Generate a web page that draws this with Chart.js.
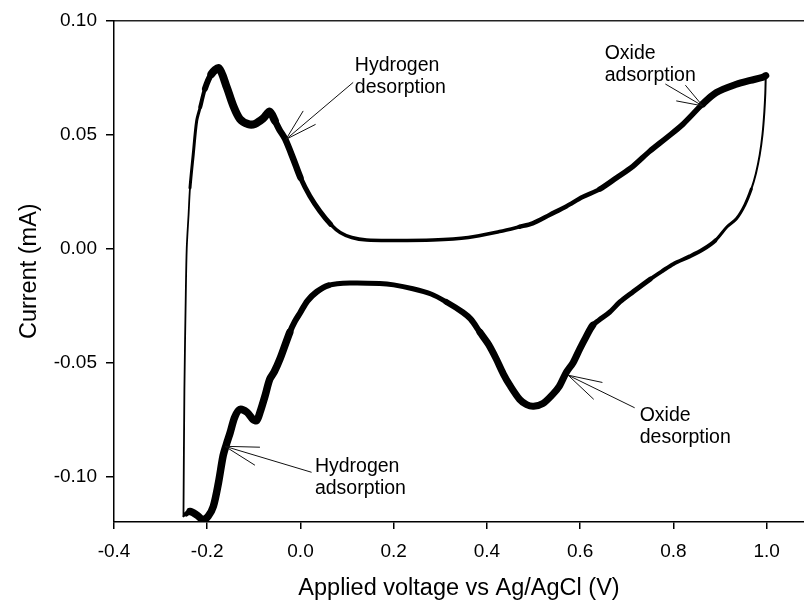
<!DOCTYPE html>
<html>
<head>
<meta charset="utf-8">
<script src="https://cdn.jsdelivr.net/npm/chart.js@4.4.1/dist/chart.umd.min.js"></script>
<style>
  html, body { margin: 0; padding: 0; background: #fff; }
  #cv { display: block; }
</style>
</head>
<body>
<canvas id="cv" width="804" height="604"></canvas>
<script>
// cyclic voltammogram, anodic sweep (-0.25 V -> 1.0 V)
const voltageAnodic = [-0.251, -0.249, -0.246, -0.244, -0.240, -0.237, -0.230, -0.2227, -0.215, -0.205, -0.191, -0.175, -0.158, -0.145, -0.130, -0.112, -0.098, -0.080, -0.066, -0.055, -0.045, -0.033, -0.015, 0.000, 0.020, 0.042, 0.065, 0.085, 0.110, 0.142, 0.200, 0.284, 0.360, 0.427, 0.470, 0.498, 0.535, 0.570, 0.605, 0.642, 0.678, 0.713, 0.749, 0.785, 0.820, 0.863, 0.892, 0.935, 0.965, 0.991, 0.998];
const currentAnodic = [-0.1175, -0.062, -0.020, 0.000, 0.015, 0.0265, 0.0413, 0.0559, 0.062, 0.070, 0.0765, 0.079, 0.0706, 0.063, 0.0568, 0.0545, 0.0546, 0.057, 0.060, 0.056, 0.052, 0.048, 0.039, 0.031, 0.023, 0.0162, 0.0105, 0.0070, 0.0048, 0.0037, 0.0035, 0.0037, 0.0048, 0.0074, 0.0095, 0.011, 0.0148, 0.0184, 0.0225, 0.026, 0.031, 0.036, 0.0426, 0.0485, 0.0544, 0.0634, 0.0684, 0.072, 0.0737, 0.075, 0.0758];

// cathodic sweep (1.0 V -> -0.25 V)
const voltageCathodic = [0.998, 0.997, 0.995, 0.991, 0.985, 0.977, 0.967, 0.953, 0.935, 0.915, 0.890, 0.863, 0.835, 0.800, 0.777, 0.750, 0.713, 0.685, 0.663, 0.640, 0.627, 0.612, 0.599, 0.585, 0.570, 0.555, 0.541, 0.520, 0.500, 0.485, 0.470, 0.449, 0.435, 0.420, 0.403, 0.385, 0.365, 0.348, 0.313, 0.280, 0.241, 0.200, 0.170, 0.106, 0.060, 0.035, 0.015, 0.000, -0.012, -0.023, -0.044, -0.056, -0.066, -0.076, -0.087, -0.094, -0.102, -0.115, -0.130, -0.141, -0.151, -0.159, -0.166, -0.176, -0.187, -0.198, -0.209, -0.222, -0.237, -0.245, -0.251];
const currentCathodic = [0.0758, 0.068, 0.060, 0.050, 0.041, 0.033, 0.026, 0.019, 0.013, 0.0095, 0.0035, -0.0005, -0.0035, -0.0068, -0.0098, -0.0135, -0.0191, -0.0235, -0.028, -0.0315, -0.0337, -0.039, -0.0441, -0.050, -0.0544, -0.0605, -0.064, -0.068, -0.0692, -0.0685, -0.0662, -0.060, -0.055, -0.0485, -0.042, -0.0368, -0.031, -0.028, -0.0235, -0.020, -0.0177, -0.016, -0.0154, -0.0152, -0.0162, -0.019, -0.023, -0.028, -0.032, -0.0368, -0.0485, -0.054, -0.0574, -0.0647, -0.072, -0.0755, -0.075, -0.0718, -0.0706, -0.074, -0.0809, -0.086, -0.091, -0.1029, -0.1132, -0.1175, -0.119, -0.117, -0.1154, -0.1165, -0.1175];

const xTickValues = [-0.4, -0.2, 0.0, 0.2, 0.4, 0.6, 0.8, 1.0];
const yTickValues = [-0.10, -0.05, 0.00, 0.05, 0.10];

// labels with arrows, in data units
const notes = [
  { text: ["Hydrogen", "desorption"], at: [0.1166, 0.0779], tip: [-0.0313, 0.0478], tail: [0.113, 0.0728], barbs: [[0.0058, 0.0603], [0.0324, 0.0544]] },
  { text: ["Oxide", "adsorption"], at: [0.6525, 0.0832], tip: [0.8626, 0.0625], tail: [0.7826, 0.0721], barbs: [[0.8255, 0.0716], [0.806, 0.0647]] },
  { text: ["Hydrogen", "adsorption"], at: [0.0309, -0.0981], tip: [-0.162, -0.0868], tail: [0.0238, -0.0982], barbs: [[-0.087, -0.0872], [-0.0977, -0.0951]] },
  { text: ["Oxide", "desorption"], at: [0.7276, -0.0756], tip: [0.5739, -0.0556], tail: [0.7168, -0.0699], barbs: [[0.6476, -0.0588], [0.629, -0.0662]] }
];

const FONT = '"Liberation Sans", Arial, Helvetica, sans-serif';
Chart.defaults.font.family = FONT;
Chart.defaults.color = "#000";

// the trace is a bundle of many cycles, so it is thicker in some places
function anodicWidth(x) {
  if (x < -0.235) return 1.8;
  if (x < -0.215) return 3;
  if (x < -0.205) return 4;
  if (x < -0.19) return 6;
  if (x < -0.05) return 8;
  if (x < 0.0) return 6.5;
  if (x < 0.06) return 5;
  if (x < 0.45) return 3.5;
  if (x < 0.65) return 4.5;
  if (x < 0.85) return 5.5;
  return 7;
}
function cathodicWidth(x) {
  if (x > 0.97) return 2;
  if (x > 0.90) return 3;
  if (x > 0.75) return 4;
  if (x > 0.63) return 5;
  if (x > 0.38) return 7;
  if (x > 0.30) return 6;
  if (x > 0.05) return 5;
  if (x > -0.03) return 6;
  if (x > -0.23) return 7.5;
  if (x > -0.246) return 5;
  return 1.8;
}

const toPoints = (xs, ys) => xs.map((v, i) => ({ x: v, y: ys[i] }));

const notePlugin = {
  id: "notes",
  afterDatasetsDraw(chart) {
    const { ctx, scales } = chart;
    const px = (p) => [scales.x.getPixelForValue(p[0]), scales.y.getPixelForValue(p[1])];
    ctx.save();
    ctx.strokeStyle = "#111";
    ctx.lineWidth = 1;
    ctx.fillStyle = "#000";
    ctx.font = "19.5px " + FONT;
    ctx.textBaseline = "alphabetic";
    ctx.textAlign = "left";
    notes.forEach((n) => {
      const t = px(n.tip);
      [n.tail, ...n.barbs].forEach((e) => {
        const q = px(e);
        ctx.beginPath();
        ctx.moveTo(t[0], t[1]);
        ctx.lineTo(q[0], q[1]);
        ctx.stroke();
      });
      const a = px(n.at);
      n.text.forEach((s, i) => ctx.fillText(s, a[0], a[1] + i * 22));
    });
    ctx.restore();
  }
};

const ctx = document.getElementById("cv").getContext("2d");
const cvChart = new Chart(ctx, {
  type: "scatter",
  data: {
    datasets: [
      {
        label: "Anodic sweep",
        data: toPoints(voltageAnodic, currentAnodic),
        showLine: true,
        borderColor: "#000",
        borderWidth: 4,
        tension: 0.3,
        pointRadius: 0,
        borderJoinStyle: "round",
        borderCapStyle: "round",
        segment: { borderWidth: (c) => anodicWidth((c.p0.parsed.x + c.p1.parsed.x) / 2) }
      },
      {
        label: "Cathodic sweep",
        data: toPoints(voltageCathodic, currentCathodic),
        showLine: true,
        borderColor: "#000",
        borderWidth: 4,
        tension: 0.3,
        pointRadius: 0,
        borderJoinStyle: "round",
        borderCapStyle: "round",
        segment: { borderWidth: (c) => cathodicWidth((c.p0.parsed.x + c.p1.parsed.x) / 2) }
      }
    ]
  },
  options: {
    responsive: false,
    animation: false,
    devicePixelRatio: 1,
    layout: { padding: { top: 20, right: 0, bottom: 0, left: 0 } },
    plugins: { legend: { display: false }, tooltip: { enabled: false } },
    scales: {
      x: {
        type: "linear",
        position: "bottom",
        min: -0.4,
        max: 1.08,
        afterBuildTicks: (s) => { s.ticks = xTickValues.map((v) => ({ value: v })); },
        afterFit: (s) => { s.height = 82; },
        ticks: {
          callback: (v) => v.toFixed(1),
          font: { size: 19 },
          color: "#000",
          padding: 11,
          maxRotation: 0,
          autoSkip: false
        },
        grid: { display: true, drawOnChartArea: false, drawTicks: true, tickLength: 7, color: "#000", lineWidth: 1.5 },
        border: { display: true, color: "#000", width: 1.5 },
        title: { display: true, text: "Applied voltage vs Ag/AgCl (V)", font: { size: 23.5 }, color: "#000", padding: { top: 0, bottom: 1 } }
      },
      x2: {
        type: "linear",
        position: "top",
        min: -0.4,
        max: 1.08,
        afterFit: (s) => { s.height = 0; },
        ticks: { display: false },
        grid: { display: false, drawTicks: false },
        border: { display: true, color: "#222", width: 1.5 }
      },
      y: {
        type: "linear",
        min: -0.12,
        max: 0.10,
        afterBuildTicks: (s) => { s.ticks = yTickValues.map((v) => ({ value: v })); },
        afterFit: (s) => { s.width = 114; },
        ticks: {
          callback: (v) => v.toFixed(2),
          font: { size: 19 },
          color: "#000",
          padding: 9,
          autoSkip: false
        },
        grid: { display: true, drawOnChartArea: false, drawTicks: true, tickLength: 8, color: "#000", lineWidth: 1.5 },
        border: { display: true, color: "#000", width: 1.5 },
        title: { display: true, text: "Current (mA)", font: { size: 23.5 }, color: "#000", padding: { top: 15, bottom: 0 } }
      }
    }
  },
  plugins: [notePlugin]
});
</script>
</body>
</html>
